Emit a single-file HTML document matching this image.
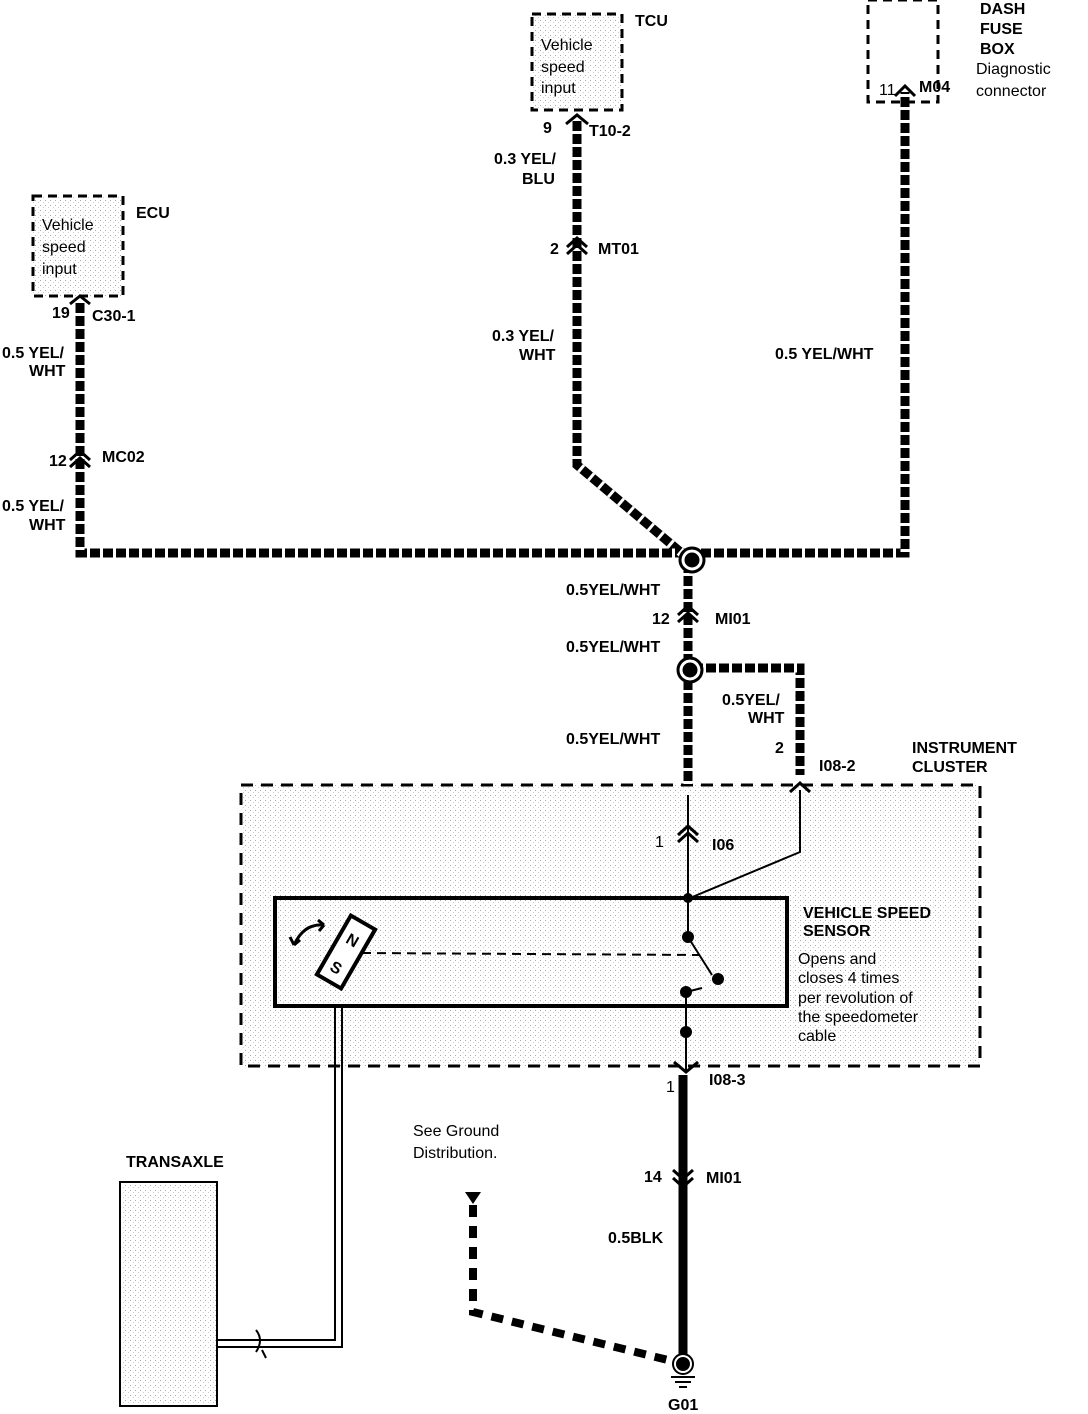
<!DOCTYPE html>
<html><head><style>
html,body{margin:0;padding:0;background:#fff}
svg{display:block}
text{font-family:"Liberation Sans",sans-serif;fill:#000;font-size:16px}
.b{font-weight:bold}
</style></head><body>
<svg width="1088" height="1414" viewBox="0 0 1088 1414" xmlns="http://www.w3.org/2000/svg">
<defs>
<pattern id="st" width="5" height="5" patternUnits="userSpaceOnUse">
<rect width="5" height="5" fill="#fff"/><rect x="0" y="0" width="1" height="1" fill="#aaa"/><rect x="3" y="2" width="1" height="1" fill="#ccc"/>
</pattern>
</defs>
<!-- boxes -->
<rect x="532" y="14" width="90" height="96" fill="url(#st)" stroke="#000" stroke-width="3" stroke-dasharray="9 6"/>
<rect x="33" y="196" width="90" height="100" fill="url(#st)" stroke="#000" stroke-width="3" stroke-dasharray="9 6"/>
<rect x="868" y="0" width="70" height="102" fill="#fff" stroke="#000" stroke-width="3" stroke-dasharray="9 6"/>
<rect x="241" y="785" width="739" height="281" fill="url(#st)" stroke="#000" stroke-width="3" stroke-dasharray="12 8"/>
<rect x="120" y="1182" width="97" height="224" fill="url(#st)" stroke="#000" stroke-width="2"/>
<rect x="275" y="898" width="512" height="108" fill="none" stroke="#000" stroke-width="4"/>

<!-- hatched wires -->
<g fill="none" stroke-linejoin="miter">
<g stroke="#000" stroke-width="9">
<polyline points="577,118 577,465 690,560"/>
<polyline points="80,300 80,553 905,553 905,92"/>
<polyline points="688,560 688,785"/>
<polyline points="690,668 800,668 800,775"/>
</g>
<g stroke="#fff" stroke-width="9" stroke-dasharray="3 10">
<polyline points="577,118 577,465 690,560"/>
<polyline points="80,300 80,553 905,553 905,92"/>
<polyline points="688,560 688,785"/>
<polyline points="690,668 800,668 800,775"/>
</g>
</g>
<!-- junctions -->
<circle cx="692" cy="560" r="9" fill="#000" stroke="#fff" stroke-width="3"/>
<circle cx="692" cy="560" r="12" fill="none" stroke="#000" stroke-width="3"/>
<circle cx="690" cy="670" r="9" fill="#000" stroke="#fff" stroke-width="3"/>
<circle cx="690" cy="670" r="12" fill="none" stroke="#000" stroke-width="3"/>

<!-- connectors (chevrons) -->
<g fill="none" stroke="#000" stroke-width="3">
<polyline points="566,124 577,115 588,124"/>
<polyline points="567,247 577,238 587,247"/><polyline points="567,254 577,245 587,254"/>
<polyline points="70,304 80,296 90,304"/>
<polyline points="70,460 80,451 90,460"/><polyline points="70,467 80,458 90,467"/>
<polyline points="895,96 905,86 915,96"/>
<polyline points="678,615 688,606 698,615"/><polyline points="678,622 688,613 698,622"/>
<polyline points="790,792 800,783 810,792"/>
<polyline points="678,835 688,826 698,835"/><polyline points="678,842 688,833 698,842"/>
<polyline points="674,1062 686,1072 698,1062"/>
<polyline points="673,1170 683,1179 693,1170"/><polyline points="673,1178 683,1187 693,1178"/>
</g>
<!-- thin lines -->
<g stroke="#000" stroke-width="2" fill="none">
<line x1="688" y1="795" x2="688" y2="898"/>
<polyline points="800,790 800,852 690,898"/>
<line x1="688" y1="898" x2="688" y2="937"/>
<line x1="688" y1="937" x2="712" y2="975"/>
<line x1="686" y1="992" x2="686" y2="1070"/>
<line x1="686" y1="992" x2="702" y2="988"/>
<line x1="362" y1="953" x2="700" y2="955" stroke-dasharray="9 6"/>
<polyline points="335,1006 335,1340 217,1340"/>
<polyline points="342,1006 342,1347 217,1347"/>
<path d="M256,1330 q8,10 0,22 M262,1350 l4,8"/>
<path d="M294,945 q10,-22 30,-20" stroke-width="3"/>
<path d="M294,945 l-4,-8 M294,945 l6,-5 M324,925 l-6,-5 M324,925 l-5,6" stroke-width="3"/>
</g>
<circle cx="688" cy="898" r="5"/><circle cx="688" cy="937" r="6"/><circle cx="718" cy="979" r="6"/>
<circle cx="686" cy="992" r="6"/><circle cx="686" cy="1032" r="6"/>
<g transform="rotate(30 346 952)">
<rect x="332" y="918" width="28" height="68" fill="#fff" stroke="#000" stroke-width="4"/>
<text x="340" y="944" font-size="15" class="b">N</text>
<text x="340" y="976" font-size="15" class="b">S</text>
</g>
<!-- ground wire -->
<line x1="683" y1="1075" x2="683" y2="1356" stroke="#000" stroke-width="9"/>
<polyline points="473,1205 473,1312 668,1360" fill="none" stroke="#000" stroke-width="8" stroke-dasharray="12 9"/>
<polygon points="465,1192 481,1192 473,1204" fill="#000"/>
<circle cx="683" cy="1364" r="8" fill="#000" stroke="#fff" stroke-width="2"/>
<circle cx="683" cy="1364" r="10" fill="none" stroke="#000" stroke-width="2"/>
<line x1="671" y1="1377" x2="695" y2="1377" stroke="#000" stroke-width="2"/>
<line x1="675" y1="1382" x2="691" y2="1382" stroke="#000" stroke-width="2"/>
<line x1="679" y1="1387" x2="687" y2="1387" stroke="#000" stroke-width="2"/>

<!-- labels -->
<text x="541" y="50" font-size="19">Vehicle</text><text x="541" y="72" font-size="19">speed</text><text x="541" y="93" font-size="19">input</text>
<text x="635" y="26" class="b" font-size="15">TCU</text>
<text x="543" y="133" class="b" font-size="15">9</text><text x="589" y="136" class="b" font-size="15">T10-2</text>
<text x="494" y="164" class="b" font-size="15">0.3 YEL/</text><text x="522" y="184" class="b" font-size="15">BLU</text>
<text x="550" y="254" class="b" font-size="15">2</text><text x="598" y="254" class="b" font-size="15">MT01</text>
<text x="492" y="341" class="b" font-size="15">0.3 YEL/</text><text x="519" y="360" class="b" font-size="15">WHT</text>
<text x="980" y="14" class="b" font-size="15">DASH</text><text x="980" y="34" class="b" font-size="15">FUSE</text><text x="980" y="54" class="b" font-size="15">BOX</text>
<text x="976" y="74" font-size="18">Diagnostic</text><text x="976" y="96" font-size="18">connector</text>
<text x="879" y="95" font-size="14">11</text><text x="919" y="92" class="b" font-size="15">M04</text>
<text x="775" y="359" class="b" font-size="15">0.5 YEL/WHT</text>
<text x="42" y="230" font-size="19">Vehicle</text><text x="42" y="252" font-size="19">speed</text><text x="42" y="274" font-size="19">input</text>
<text x="136" y="218" class="b" font-size="15">ECU</text>
<text x="52" y="318" class="b" font-size="15">19</text><text x="92" y="321" class="b" font-size="15">C30-1</text>
<text x="2" y="358" class="b" font-size="15">0.5 YEL/</text><text x="29" y="376" class="b" font-size="15">WHT</text>
<text x="49" y="466" class="b" font-size="15">12</text><text x="102" y="462" class="b" font-size="15">MC02</text>
<text x="2" y="511" class="b" font-size="15">0.5 YEL/</text><text x="29" y="530" class="b" font-size="15">WHT</text>
<text x="566" y="595" class="b" font-size="15">0.5YEL/WHT</text>
<text x="652" y="624" class="b" font-size="15">12</text><text x="715" y="624" class="b" font-size="15">MI01</text>
<text x="566" y="652" class="b" font-size="15">0.5YEL/WHT</text>
<text x="566" y="744" class="b" font-size="15">0.5YEL/WHT</text>
<text x="722" y="705" class="b" font-size="15">0.5YEL/</text><text x="748" y="723" class="b" font-size="15">WHT</text>
<text x="775" y="753" class="b" font-size="15">2</text><text x="819" y="771" class="b" font-size="15">I08-2</text>
<text x="912" y="753" class="b" font-size="15">INSTRUMENT</text><text x="912" y="772" class="b" font-size="15">CLUSTER</text>
<text x="655" y="847" font-size="15">1</text><text x="712" y="850" class="b" font-size="15">I06</text>
<text x="803" y="918" class="b" font-size="15">VEHICLE SPEED</text><text x="803" y="936" class="b" font-size="15">SENSOR</text>
<text x="798" y="964" font-size="15">Opens and</text><text x="798" y="983" font-size="15">closes 4 times</text>
<text x="798" y="1003" font-size="15">per revolution of</text><text x="798" y="1022" font-size="15">the speedometer</text>
<text x="798" y="1041" font-size="15">cable</text>
<text x="666" y="1092" font-size="14">1</text><text x="709" y="1085" class="b" font-size="15">I08-3</text>
<text x="413" y="1136" font-size="17">See Ground</text><text x="413" y="1158" font-size="17">Distribution.</text>
<text x="126" y="1167" class="b" font-size="15">TRANSAXLE</text>
<text x="644" y="1182" class="b" font-size="15">14</text><text x="706" y="1183" class="b" font-size="15">MI01</text>
<text x="608" y="1243" class="b" font-size="15">0.5BLK</text>
<text x="668" y="1410" class="b" font-size="15">G01</text>
</svg>
</body></html>
